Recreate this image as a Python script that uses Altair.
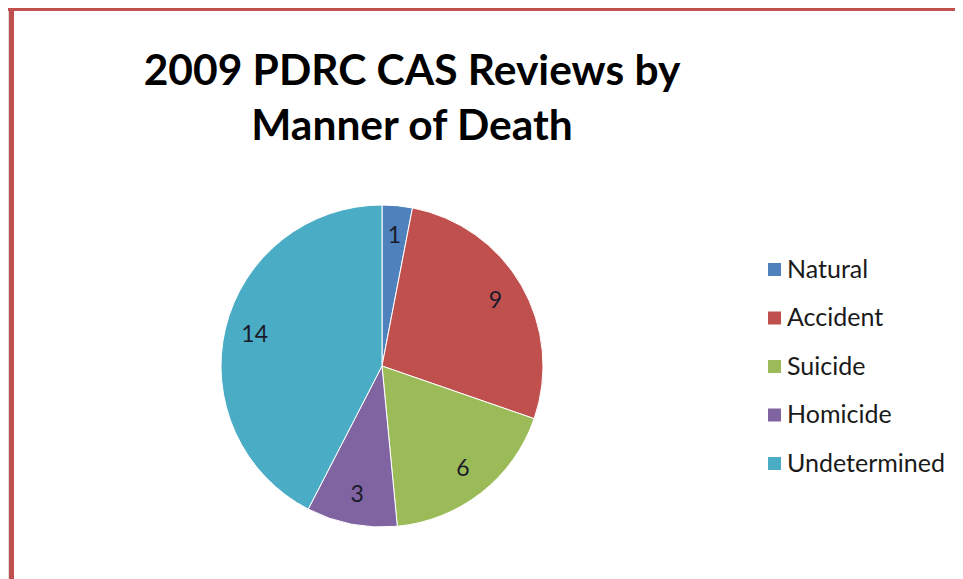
import altair as alt
import pandas as pd

categories = ["Natural", "Accident", "Suicide", "Homicide", "Undetermined"]
counts = [1, 9, 6, 3, 14]
colors = ["#4F81BD", "#C0504D", "#9BBB59", "#8064A2", "#4BACC6"]
title_lines = ["2009 PDRC CAS Reviews by", "Manner of Death"]

df = pd.DataFrame({"manner": categories, "count": counts, "idx": list(range(len(categories)))})
title_df = pd.DataFrame({"k": [0]})

W, H = 947, 571
CX, CY, R = 374, 358, 161
FONT = "Lato"

base = alt.Chart(df)

arcs = base.mark_arc(radius=R, stroke="white", strokeWidth=1).encode(
    theta=alt.Theta("count:Q", stack=True),
    order=alt.Order("idx:Q"),
    color=alt.Color(
        "manner:N",
        scale=alt.Scale(domain=categories, range=colors),
        sort=categories,
        legend=alt.Legend(
            title=None,
            orient="none",
            legendX=754,
            legendY=249,
            symbolType="square",
            symbolSize=169,
            symbolStrokeWidth=0,
            labelFont=FONT,
            labelFontSize=25,
            labelColor="#1a1a1a",
            labelOffset=0,
            rowPadding=22.5,
            padding=0,
        ),
    ),
    x=alt.value(CX),
    y=alt.value(CY),
)

labels = base.mark_text(radius=131, font=FONT, fontSize=23, color="#1a1a2a").encode(
    theta=alt.Theta("count:Q", stack=True),
    order=alt.Order("idx:Q"),
    text=alt.Text("count:Q"),
    x=alt.value(CX),
    y=alt.value(CY),
)

title = alt.Chart(title_df).mark_text(
    font=FONT, fontSize=42.5, fontWeight="bold", color="#000000",
    lineHeight=55, align="center", baseline="alphabetic",
).encode(
    text=alt.value(title_lines),
    x=alt.value(404),
    y=alt.value(77),
)

border_left = base.mark_rule(color="#C0504D", strokeWidth=5).encode(
    x=alt.value(3.5), y=alt.value(0), y2=alt.value(H)
)
border_top = base.mark_rule(color="#C0504D", strokeWidth=5).encode(
    x=alt.value(0), x2=alt.value(W), y=alt.value(0)
)

chart = (
    alt.layer(border_left, border_top, arcs, labels, title)
    .properties(
        width=W,
        height=H,
        padding=0,
        autosize=alt.AutoSizeParams(type="none"),
    )
    .configure_view(strokeWidth=0, stroke="transparent")
    .configure(background="white")
)

chart.save("out.html", embed_options={"renderer": "svg", "actions": False})
